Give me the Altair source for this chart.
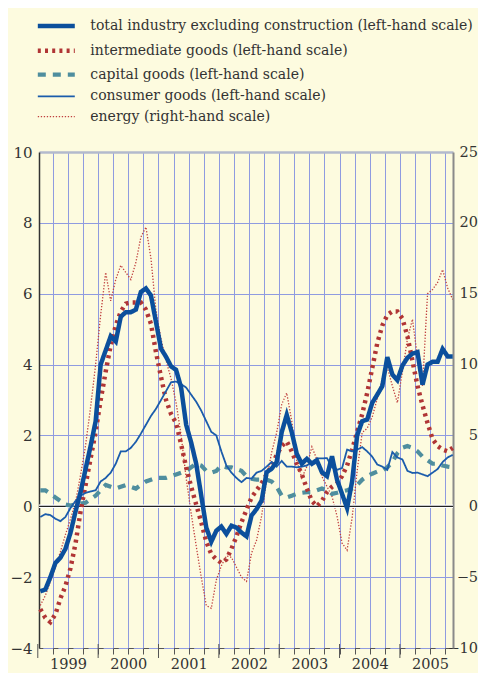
import altair as alt
import pandas as pd

series_names = [
    "total industry excluding construction (left-hand scale)",
    "intermediate goods (left-hand scale)",
    "capital goods (left-hand scale)",
    "consumer goods (left-hand scale)",
    "energy (right-hand scale)",
]

# monthly annual % changes, Jan 1999 - Nov 2005
total = [
    -2.4, -2.35, -2.0, -1.6, -1.45, -1.2, -0.75, -0.15, 0.4, 1.05, 1.7, 2.4,
    4.0, 4.4, 4.8, 4.65, 5.35, 5.48, 5.48, 5.55, 6.05, 6.15, 5.95, 5.2,
    4.45, 4.22, 3.95, 3.85, 3.35, 2.3, 1.8, 1.2, 0.3, -0.6, -1.0, -0.69,
    -0.57, -0.78, -0.55, -0.6, -0.74, -0.85, -0.26, -0.08, 0.16, 0.96, 1.06, 1.25,
    2.09, 2.58, 2.09, 1.48, 1.2, 1.34, 1.2, 1.29, 0.96, 0.85, 1.41, 0.75,
    0.35, -0.05, 0.7, 2.0, 2.4, 2.45, 2.92, 3.15, 3.39, 4.21, 3.72, 3.56,
    3.97, 4.19, 4.31, 4.35, 3.43, 4.0, 4.08, 4.08, 4.44, 4.23, 4.23,
]
intermediate = [
    -2.9, -3.15, -3.27, -3.05, -2.6, -2.25, -1.75, -1.05, -0.15, 0.6, 1.35, 2.1,
    3.0, 3.8, 4.55, 5.1, 5.5, 5.72, 5.75, 5.75, 5.75, 5.55, 5.15, 4.35,
    3.65, 3.0, 2.6, 2.35, 1.75, 1.1, 0.55, 0.05, -0.45, -1.0, -1.35, -1.5,
    -1.6, -1.5, -1.2, -0.85, -0.45, -0.1, 0.25, 0.45, 0.65, 0.9, 1.15, 1.45,
    1.7, 1.83, 1.55, 1.2, 0.9, 0.5, 0.15, 0.0, 0.15, 0.4, 0.55, 0.65,
    0.85, 1.15, 1.6, 2.1, 2.6, 3.2, 3.9, 4.6, 5.1, 5.4, 5.5, 5.5,
    5.3, 4.8, 4.1, 3.4, 2.85, 2.35, 1.9, 1.7, 1.6, 1.55, 1.65,
]
capital = [
    0.45, 0.45, 0.35, 0.25, 0.15, 0.05, 0.02, 0.05, 0.08, 0.1, 0.2, 0.3,
    0.45, 0.6, 0.55, 0.5, 0.55, 0.6, 0.55, 0.5, 0.6, 0.7, 0.75, 0.8,
    0.8, 0.8, 0.85, 0.9, 0.95, 1.0, 1.1, 1.2, 1.15, 1.0, 0.95, 1.0,
    1.15, 1.1, 1.1, 1.05, 1.0, 0.85, 0.78, 0.75, 0.75, 0.75, 0.7, 0.55,
    0.3, 0.25, 0.3, 0.35, 0.38, 0.4, 0.4, 0.45, 0.5, 0.45, 0.35, 0.38,
    0.42, 0.45, 0.5, 0.6, 0.75, 0.85, 0.92, 0.98, 1.0, 1.1, 1.25, 1.5,
    1.65, 1.7, 1.65, 1.55, 1.4, 1.3, 1.2, 1.2, 1.15, 1.12, 1.1,
]
consumer = [
    -0.3, -0.22, -0.25, -0.35, -0.42, -0.3, -0.05, 0.15, 0.3, 0.38, 0.42, 0.45,
    0.7, 0.8, 0.95, 1.2, 1.55, 1.55, 1.65, 1.82, 2.05, 2.3, 2.55, 2.75,
    3.0, 3.25, 3.5, 3.52, 3.45, 3.35, 3.15, 2.95, 2.7, 2.4, 2.1, 2.0,
    1.55, 1.15, 0.95, 0.8, 0.68, 0.8, 0.78, 0.95, 1.0, 1.12, 1.25, 1.12,
    1.28, 1.12, 1.12, 1.1, 1.12, 1.15, 1.25, 1.35, 1.35, 1.36, 1.1, 1.03,
    1.08, 1.6, 1.55, 1.6, 1.67, 1.55, 1.4, 1.18, 1.12, 1.03, 1.53, 1.38,
    1.32, 1.0, 0.94, 0.95, 0.9, 0.85, 0.95, 1.05, 1.25, 1.38, 1.45,
]
energy = [
    -7.0, -6.3, -5.3, -4.3, -3.2, -2.0, -0.9, 0.3, 2.2, 4.3, 7.0, 10.0,
    13.5, 16.5, 14.5, 16.0, 17.0, 16.5, 16.0, 17.2, 19.0, 19.7, 17.5, 13.8,
    11.8, 10.3, 9.0, 7.3, 5.0, 2.0, -0.5, -2.8, -5.0, -7.0, -7.2, -5.2,
    -4.2, -3.5, -3.6, -4.3, -5.0, -5.3, -3.3, -2.4, -0.7, 1.9, 3.8, 5.2,
    7.2, 8.0, 6.0, 3.2, 2.0, 2.8, 4.2, 3.3, 2.1, 1.4, 0.7, -0.7,
    -2.6, -3.1, -0.8, 2.5, 5.2, 5.5, 6.3, 7.6, 9.0, 9.8, 8.5, 7.3,
    9.5, 11.8, 13.2, 10.5, 8.5, 15.0, 15.3, 15.8, 16.7, 15.4, 14.6,
]

years = [1999, 2000, 2001, 2002, 2003, 2004, 2005]
left_ticks = [-4, -2, 0, 2, 4, 6, 8, 10]
right_ticks = [-10, -5, 0, 5, 10, 15, 20, 25]
quarter_ticks = sorted(set([y + q / 4 for y in years for q in range(4)][1:] + [2005.75]))

colors = ["#0b4f9c", "#b03535", "#4f8e9e", "#1b5cab", "#c0403f"]
dashes = [[1, 0], [3, 4.2], [8, 7], [1, 0], [1.3, 1.7]]
widths = [4.5, 4.5, 4.2, 1.8, 1.3]

rows = []
for name, vals in zip(series_names, [total, intermediate, capital, consumer, energy]):
    for i, v in enumerate(vals):
        rows.append({"t": 1999 + (i + 0.5) / 12, "v": v, "series": name})
df = pd.DataFrame(rows)

FONT = "DejaVu Serif"
TXT = "#333333"
GRID = "#8f9be0"
BG = "#fdfbdf"

legend = alt.Legend(
    title=None, orient="none", legendX=8.8, legendY=-134.5,
    symbolType="M-3,0H3", symbolSize=152,
    labelFont=FONT, labelFontSize=14, labelColor=TXT, labelLimit=600,
    labelOffset=25.5, rowPadding=5.8, padding=0,
)

xscale = alt.Scale(domain=[1999.02, 2005.88], nice=False, zero=False)
x_axis = alt.Axis(
    values=quarter_ticks, grid=True, gridColor=GRID, gridWidth=1,
    ticks=True, tickSize=6, tickColor="#555555", tickWidth=1,
    domain=True, domainColor="#555555", domainWidth=1,
    domainDash=[5, 10.087], domainDashOffset=1.2,
    labelExpr="datum.value % 1 == 0.5 ? '' + floor(datum.value) : ''",
    labelFont=FONT, labelFontSize=14.5, labelColor=TXT, labelPadding=3,
    labelOverlap=False, labelFlush=False, title=None,
)
X = alt.X("t:Q", scale=xscale, axis=x_axis)

left_scale = alt.Scale(domain=[-4, 10], nice=False, zero=False)
left_axis = alt.Axis(
    values=left_ticks, grid=True,
    gridColor={"condition": {"test": "datum.value == 10", "value": "#b3bacd"}, "value": GRID},
    gridWidth={"condition": {"test": "datum.value == 10", "value": 2.5}, "value": 1},
    ticks=False, domain=True, domainColor="#333333", domainWidth=1.5,
    labelFont=FONT, labelFontSize=15, labelColor=TXT, labelPadding=7, title=None,
)
right_axis = alt.Axis(
    orient="right", values=right_ticks, grid=False, ticks=False,
    domain=True, domainColor="#8a8a8a", domainWidth=2,
    labelFont=FONT, labelFontSize=14.5, labelColor=TXT,
    labelAlign="right", labelPadding=24.5, title=None,
)

color = alt.Color("series:N", scale=alt.Scale(domain=series_names, range=colors), legend=legend)
dash = alt.StrokeDash("series:N", scale=alt.Scale(domain=series_names, range=dashes), legend=legend)
sw = alt.StrokeWidth("series:N", scale=alt.Scale(type="ordinal", domain=series_names, range=widths), legend=legend)

base = alt.Chart(df)


def left_line(name):
    return base.transform_filter(alt.datum.series == name).mark_line().encode(
        x=X, y=alt.Y("v:Q", scale=left_scale, axis=left_axis),
        color=color, strokeDash=dash, strokeWidth=sw,
    )


zero_df = pd.DataFrame({"v": [0]})
zero_white = alt.Chart(zero_df).mark_rule(color="white", strokeWidth=3.5).encode(
    y=alt.Y("v:Q", scale=left_scale, axis=left_axis))
zero_black = alt.Chart(zero_df).mark_rule(color="#222222", strokeWidth=1.3).encode(
    y=alt.Y("v:Q", scale=left_scale, axis=left_axis))

year_df = pd.DataFrame({"t": years})
year_ticks = alt.Chart(year_df).mark_rule(color="#555555", strokeWidth=1).encode(
    x=X, y=alt.value(492), y2=alt.value(506))

left_group = alt.layer(
    zero_white, zero_black, year_ticks,
    left_line(series_names[2]),
    left_line(series_names[1]),
    left_line(series_names[3]),
    left_line(series_names[0]),
)

energy_layer = base.transform_filter(alt.datum.series == series_names[4]).mark_line().encode(
    x=X, y=alt.Y("v:Q", scale=alt.Scale(domain=[-10, 25], nice=False, zero=False), axis=right_axis),
    color=color, strokeDash=dash, strokeWidth=sw,
)

chart = alt.layer(energy_layer, left_group).resolve_scale(y="independent").properties(
    width=414, height=496,
    padding={"left": 31, "top": 144, "right": 25, "bottom": 25},
    autosize=alt.AutoSizeParams(type="none"),
    background=BG,
).configure(font=FONT).configure_view(fill=BG, stroke="transparent")

chart.save("out.html", embed_options={"renderer": "svg", "actions": False})
